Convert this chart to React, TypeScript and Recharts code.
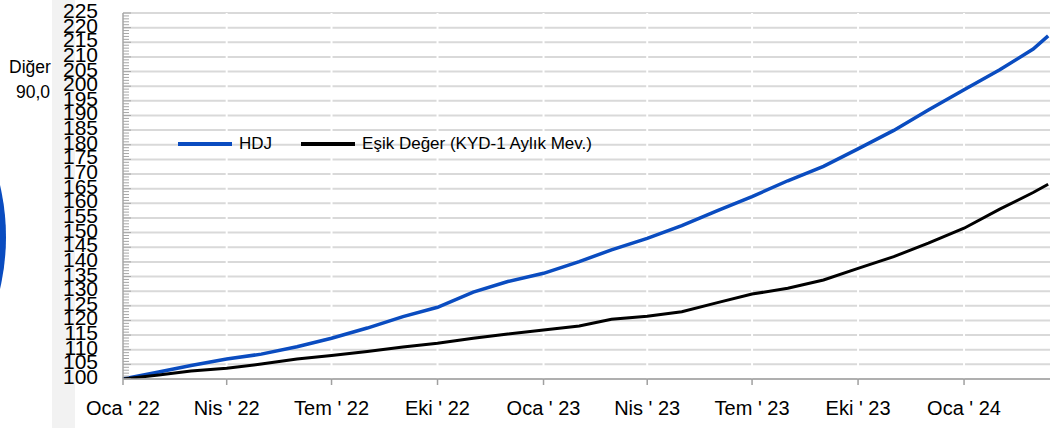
import React from 'react';
import { LineChart, Line, XAxis, YAxis, CartesianGrid, Legend } from 'recharts';

// Days since 2022-01-01 (month starts, last observation)
const dayOffsets = [0, 31, 59, 90, 120, 151, 181, 212, 243, 273, 304, 334, 365, 396, 424, 455, 485, 516, 546, 577, 608, 638, 669, 699, 730, 761, 790, 803];

const hdjValues = [100, 102.4, 104.6, 106.8, 108.5, 111.0, 113.9, 117.4, 121.3, 124.5, 129.7, 133.3, 136.1, 140.1, 144.1, 148.0, 152.4, 157.5, 162.3, 167.7, 172.6, 178.6, 184.9, 191.9, 198.8, 205.6, 212.7, 217.2];

const esikValues = [100, 101.4, 102.7, 103.7, 105.1, 106.8, 108.0, 109.4, 110.9, 112.2, 113.9, 115.4, 116.7, 118.1, 120.4, 121.4, 123.0, 126.1, 129.0, 131.0, 133.8, 137.8, 141.8, 146.4, 151.5, 158.0, 163.7, 166.5];

const quarterTicks = [0, 90, 181, 273, 365, 455, 546, 638, 730];
const quarterLabels = ["Oca ' 22", "Nis ' 22", "Tem ' 22", "Eki ' 22", "Oca ' 23", "Nis ' 23", "Tem ' 23", "Eki ' 23", "Oca ' 24"];

const majorYTicks = [100, 105, 110, 115, 120, 125, 130, 135, 140, 145, 150, 155, 160, 165, 170, 175, 180, 185, 190, 195, 200, 205, 210, 215, 220, 225];
const minorYTicks: number[] = [];
for (let v = 100; v <= 225; v++) minorYTicks.push(v);

const seriesNames = ['HDJ', 'Eşik Değer (KYD-1 Aylık Mev.)'];
const seriesColors = ['#0a4cc0', '#000000'];

const data = dayOffsets.map((d, i) => ({ day: d, hdj: hdjValues[i], esik: esikValues[i] }));

const FONT = '"Liberation Sans", Arial, sans-serif';

const YTick = (props: any) => {
  const { x, y, payload } = props;
  const v = payload.value;
  const major = v % 5 === 0;
  return (
    <g>
      <line x1={x} x2={x + (major ? 8 : 6)} y1={y} y2={y} stroke="#a6a6a6" strokeWidth={1} />
      {major && (
        <text x={x - 25} y={y} dy={5} textAnchor="end" fontSize={21} fill="#000" fontFamily={FONT}>
          {v}
        </text>
      )}
    </g>
  );
};

const XTick = (props: any) => {
  const { x, y, payload } = props;
  const idx = quarterTicks.indexOf(payload.value);
  return (
    <text x={x} y={y} dy={30} textAnchor="middle" fontSize={20} fill="#000" fontFamily={FONT}>
      {idx >= 0 ? quarterLabels[idx] : ''}
    </text>
  );
};

const LegendContent = () => (
  <div style={{ display: 'flex', alignItems: 'center', fontFamily: FONT, fontSize: 17, color: '#000', whiteSpace: 'nowrap' }}>
    {seriesNames.map((n, i) => (
      <div key={n} style={{ display: 'flex', alignItems: 'center', marginRight: i === 0 ? 29 : 0 }}>
        <div style={{ width: 54, height: i === 0 ? 4 : 3.5, background: seriesColors[i], marginRight: 7 }} />
        <span>{n}</span>
      </div>
    ))}
  </div>
);

export default function App() {
  return (
    <div style={{ position: 'absolute', left: 0, top: 0, width: 1063, height: 428, background: '#fff', overflow: 'hidden' }}>
      <div style={{ position: 'absolute', left: 52, top: 0, width: 23, height: 428, background: '#f2f2f2' }} />
      <div style={{ position: 'absolute', left: -450, top: 9, width: 456, height: 456, borderRadius: '50%', background: '#0a4cc0' }} />
      <div style={{ position: 'absolute', left: 2, top: 55, width: 56, textAlign: 'center', fontFamily: FONT, fontSize: 17.5, lineHeight: '25px', color: '#000' }}>
        <div>Diğer</div>
        <div style={{ paddingLeft: 6 }}>90,0</div>
      </div>
      <div style={{ position: 'absolute', left: 0, top: 0 }}>
        <LineChart width={1063} height={428} data={data} margin={{ top: 13, right: 13, bottom: 19, left: 63 }}>
          <CartesianGrid horizontal={true} vertical={false} stroke="#d9d9d9" strokeWidth={2} horizontalValues={majorYTicks} />
          <CartesianGrid horizontal={false} vertical={true} stroke="#ffffff" strokeWidth={2} verticalValues={quarterTicks.slice(1)} />
          <XAxis
            dataKey="day"
            type="number"
            domain={[0, 804.6]}
            ticks={quarterTicks}
            interval={0}
            height={30}
            tickSize={6}
            tickMargin={0}
            axisLine={{ stroke: '#a0a0a0', strokeWidth: 1.5 }}
            tickLine={{ stroke: '#a0a0a0', strokeWidth: 1.5 }}
            tick={<XTick />}
          />
          <YAxis
            type="number"
            domain={[100, 225]}
            ticks={minorYTicks}
            interval={0}
            width={60}
            tickSize={0}
            tickMargin={0}
            axisLine={{ stroke: '#a6a6a6', strokeWidth: 1.5 }}
            tickLine={false}
            tick={<YTick />}
            allowDataOverflow
          />
          <Legend
            verticalAlign="middle"
            layout="horizontal"
            content={<LegendContent />}
            wrapperStyle={{ position: 'absolute', left: 178, top: 134, width: 'auto' }}
          />
          <Line type="linear" dataKey="hdj" name={seriesNames[0]} stroke={seriesColors[0]} strokeWidth={3.5} dot={false} isAnimationActive={false} />
          <Line type="linear" dataKey="esik" name={seriesNames[1]} stroke={seriesColors[1]} strokeWidth={3} dot={false} isAnimationActive={false} />
        </LineChart>
      </div>
    </div>
  );
}
